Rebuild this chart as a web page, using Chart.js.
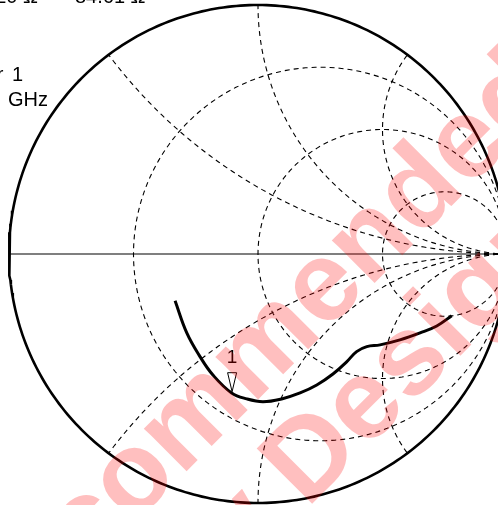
<!DOCTYPE html>
<html>
<head>
<meta charset="utf-8">
<script src="https://cdn.jsdelivr.net/npm/chart.js@4"></script>
<style>
  html, body { margin: 0; padding: 0; background: #fff; overflow: hidden; }
  canvas { display: block; }
</style>
</head>
<body>
<canvas id="smith" width="498" height="505"></canvas>
<script>
// Smith chart grid values (normalized)
const resistances = [1 / 3, 1, 3];
const reactances = [0.5, 1, 2, -0.5, -1, -2];

// measured trace, reflection coefficient (real / imag)
const gammaRe = [-0.333, -0.286, -0.233, -0.181, -0.106, -0.045, 0.020, 0.095, 0.169, 0.236, 0.301, 0.356, 0.396, 0.437, 0.490, 0.570, 0.651, 0.718, 0.778];
const gammaIm = [-0.188, -0.317, -0.412, -0.486, -0.558, -0.582, -0.593, -0.582, -0.558, -0.526, -0.482, -0.433, -0.392, -0.372, -0.365, -0.345, -0.317, -0.289, -0.248];

// marker 1
const markerRe = -0.104;
const markerIm = -0.553;
const markerLabel = '1';

// readout texts (cropped in the picture)
const readoutTop = ['12.20 Ω', '84.61 Ω'];
const readoutLeft = ['Mkr', '1', 'GHz'];
const watermark = ['Not Recommended', 'for New Designs'];

// view window: the unit circle sits at centre (258,254) with radius 249 px
const xMin = -1 - 9 / 249, xMax = xMin + 498 / 249;
const yMax = 254 / 249, yMin = -(505 - 254) / 249;

function circlePts(cx, cy, R, t0, t1, n, keepInside) {
    const pts = [];
    for (let i = 0; i <= n; i++) {
        const t = t0 + (t1 - t0) * i / n;
        const x = cx + R * Math.cos(t), y = cy + R * Math.sin(t);
        if (!keepInside || x * x + y * y <= 1.0000001) pts.push({ x, y });
    }
    return pts;
}

const dashed = { showLine: true, borderColor: '#000', borderWidth: 1.1, borderDash: [5, 4], pointRadius: 0, tension: 0 };
const datasets = [];

datasets.push({
    label: 'S11',
    data: gammaRe.map((v, i) => ({ x: v, y: gammaIm[i] })),
    showLine: true, borderColor: '#000', borderWidth: 3, pointRadius: 0, tension: 0.4
});

datasets.push({
    label: 'outline',
    data: circlePts(0, 0, 1, 0, Math.PI * 2, 360, false),
    showLine: true, borderColor: '#000', borderWidth: 2.6, pointRadius: 0, tension: 0
});

datasets.push({
    label: 'axis',
    data: [{ x: -1, y: 0 }, { x: 1, y: 0 }],
    showLine: true, borderColor: '#000', borderWidth: 1.2, pointRadius: 0
});

for (const r of resistances) {
    datasets.push(Object.assign({ label: 'r' + r, data: circlePts(r / (r + 1), 0, 1 / (r + 1), 0, Math.PI * 2, 240, false) }, dashed));
}

for (const xv of reactances) {
    const R = 1 / Math.abs(xv), s = Math.sign(xv);
    // from (1,0) round to where the arc meets the unit circle
    let pts = circlePts(1, 1 / xv, R, -s * Math.PI / 2, -s * Math.PI / 2 - s * Math.PI, 300, true);
    pts.push({ x: (xv * xv - 1) / (xv * xv + 1), y: 2 * xv / (xv * xv + 1) });
    datasets.push(Object.assign({ label: 'x' + xv, data: pts }, dashed));
}

const overlay = {
    id: 'overlay',
    afterDatasetsDraw(chart) {
        const ctx = chart.ctx;
        const sx = chart.scales.x, sy = chart.scales.y;
        ctx.save();
        // marker triangle
        const mx = sx.getPixelForValue(markerRe), my = sy.getPixelForValue(markerIm);
        ctx.strokeStyle = '#000';
        ctx.lineWidth = 1;
        ctx.beginPath();
        ctx.moveTo(mx, my);
        ctx.lineTo(mx - 4.5, my - 19);
        ctx.lineTo(mx + 4.5, my - 19);
        ctx.closePath();
        ctx.fillStyle = '#fff';
        ctx.fill();
        ctx.stroke();
        ctx.fillStyle = '#000';
        ctx.font = '19px "Liberation Sans", Arial, sans-serif';
        ctx.textAlign = 'center';
        ctx.textBaseline = 'alphabetic';
        ctx.fillText(markerLabel, mx, my - 28.5);

        ctx.font = '20px "Liberation Sans", Arial, sans-serif';
        ctx.textAlign = 'right';
        ctx.fillText(readoutTop[0], 38, 3);
        ctx.textAlign = 'left';
        ctx.fillText(readoutTop[1], 75, 3);
        ctx.textAlign = 'right';
        ctx.fillText(readoutLeft[0], 3.5, 81);
        ctx.fillText(readoutLeft[1], 23, 81);
        ctx.fillText(readoutLeft[2], 48, 106);
        ctx.restore();
    },
    afterDraw(chart) {
        const ctx = chart.ctx;
        ctx.save();
        ctx.rotate(-Math.PI / 4);
        ctx.fillStyle = 'rgba(255, 0, 0, 0.25)';
        ctx.font = 'bold 114px "Liberation Sans", Arial, sans-serif';
        ctx.textAlign = 'left';
        ctx.textBaseline = 'alphabetic';
        // line 1: centre of the "o" of "Recommended" at u=-244
        const pre1 = ctx.measureText('Not Rec').width, o1 = ctx.measureText('o').width;
        ctx.fillText(watermark[0], -244 - pre1 - o1 / 2, 465);
        // line 2: centre of the "e" of "Designs" at u=-29
        const pre2 = ctx.measureText('for New D').width, e2 = ctx.measureText('e').width;
        ctx.fillText(watermark[1], -29 - pre2 - e2 / 2, 577);
        ctx.restore();
    }
};

new Chart(document.getElementById('smith'), {
    type: 'scatter',
    data: { datasets },
    options: {
        responsive: false,
        animation: false,
        devicePixelRatio: 1,
        layout: { padding: 0 },
        plugins: { legend: { display: false }, tooltip: { enabled: false } },
        scales: {
            x: { type: 'linear', min: xMin, max: xMax, display: false },
            y: { type: 'linear', min: yMin, max: yMax, display: false }
        }
    },
    plugins: [overlay]
});
</script>
</body>
</html>
